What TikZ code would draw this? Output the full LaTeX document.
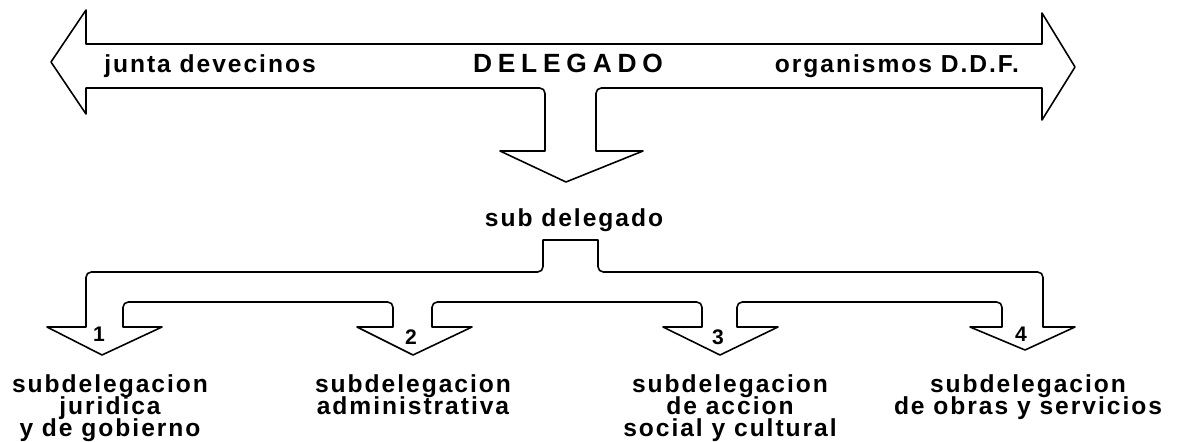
\documentclass[tikz,border=0pt]{standalone}
\usepackage{fontspec}
\newfontfamily\draftfont[LetterSpace=8]{Liberation Sans}
\newfontfamily\titlefont[LetterSpace=22]{Liberation Sans}
\lineskiplimit=-20pt
\begin{document}
\begin{tikzpicture}[x=0.02cm,y=-0.02cm,line width=0.9pt,line join=round,
  lbl/.style={font=\draftfont\bfseries\fontsize{14}{12.5}\selectfont,inner sep=0pt,anchor=base},
  sublbl/.style={lbl,align=center,anchor=north},
  numlbl/.style={font=\draftfont\bfseries\fontsize{12}{12}\selectfont,inner sep=0pt}]
  \useasboundingbox (0,0) rectangle (1180,442);

  % band of the delegado: arrows to both sides and one down
  \draw (86,10) -- (86,44) -- (1042,44) -- (1042,13) -- (1075,67) -- (1042,120)
    -- (1042,88) -- (610,88)
    [rounded corners=3pt] -- (596,88) -- (596,110) [sharp corners]
    -- (596,151) -- (643,151) -- (566,182) -- (500,151) -- (545,151) -- (545,110)
    [rounded corners=3pt] -- (545,88) -- (530,88) [sharp corners]
    -- (86,88) -- (86,114) -- (51,62) -- cycle;

  % band of the subdelegado, four arrows down
  \draw (543,240) -- (598,240) -- (598,258)
    [rounded corners=3pt] -- (598,272) -- (615,272) [sharp corners]
    -- (1025,272)
    [rounded corners=3pt] -- (1043,272) -- (1043,290) [sharp corners]
    -- (1043,327) -- (1075,327) -- (1025,350) -- (970,327) -- (1002,327) -- (1002,316)
    [rounded corners=3pt] -- (1002,302) -- (985,302) [sharp corners]
    -- (752,302)
    [rounded corners=3pt] -- (737,302) -- (737,316) [sharp corners]
    -- (737,327) -- (778,327) -- (720,355) -- (663,327) -- (702,327) -- (702,316)
    [rounded corners=3pt] -- (702,302) -- (688,302) [sharp corners]
    -- (446,302)
    [rounded corners=3pt] -- (432,302) -- (432,316) [sharp corners]
    -- (432,327) -- (472,327) -- (413,355) -- (357,327) -- (393,327) -- (393,316)
    [rounded corners=3pt] -- (393,302) -- (379,302) [sharp corners]
    -- (137,302)
    [rounded corners=3pt] -- (123,302) -- (123,316) [sharp corners]
    -- (123,327) -- (162,327) -- (102,355) -- (47,327) -- (86,327) -- (86,290)
    [rounded corners=3pt] -- (86,272) -- (100,272) [sharp corners]
    -- (529,272)
    [rounded corners=3pt] -- (543,272) -- (543,258) [sharp corners]
    -- cycle;

  \node[lbl] (junta) at (210,73) {junta devecinos};
  \node[lbl,font=\titlefont\bfseries\fontsize{15}{15}\selectfont] (deleg) at (568,73) {DELEGADO};
  \node[lbl] (organ) at (897,73) {organismos D.D.F.};
  \node[lbl] (subdel) at (574,227) {sub delegado};

  \node[numlbl] (num1) at (99,334) {1};
  \node[numlbl] (num2) at (411,337) {2};
  \node[numlbl] (num3) at (718,337) {3};
  \node[numlbl] (num4) at (1021,334) {4};

  \node[sublbl] (sub1) at (110,374) {subdelegacion\\juridica\\y de gobierno};
  \node[sublbl] (sub2) at (413,374) {subdelegacion\\administrativa};
  \node[sublbl] (sub3) at (730,374) {subdelegacion\\de accion\\social y cultural};
  \node[sublbl] (sub4) at (1028,374) {subdelegacion\\de obras y servicios};
\end{tikzpicture}
\end{document}
